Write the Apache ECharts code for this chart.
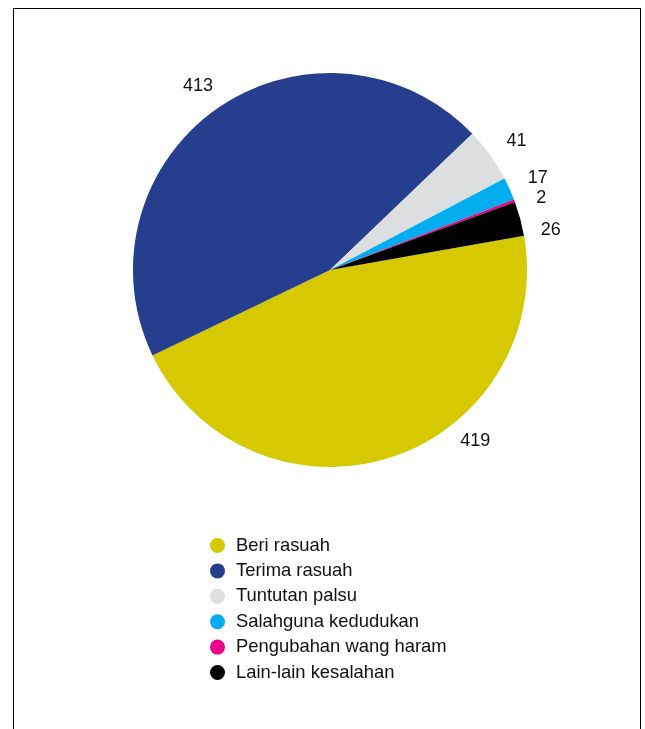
<!DOCTYPE html>
<html>
<head>
<meta charset="utf-8">
<script src="https://cdn.jsdelivr.net/npm/echarts@6/dist/echarts.min.js"></script>
<style>
html,body{margin:0;padding:0;background:#fff;width:645px;height:729px;overflow:hidden;}
#frame{position:absolute;left:13px;top:8px;width:628px;height:760px;border:1px solid #000;box-sizing:border-box;}
#chart{position:absolute;left:0;top:0;width:645px;height:729px;}
</style>
</head>
<body>
<div id="frame"></div>
<div id="chart"></div>
<script>
const categories = ['Beri rasuah','Terima rasuah','Tuntutan palsu','Salahguna kedudukan','Pengubahan wang haram','Lain-lain kesalahan'];
const values = [419, 413, 41, 17, 2, 26];
const colors = ['#D6C900','#253F8E','#DDDEE0','#00AEEF','#EC008C','#000000'];

// label nudges (style only), keyed by category index
const labelNudge = {0:[62,-35], 1:[8,-6], 2:[-1,-3], 3:[0,-3], 4:[1,-3], 5:[0,9]};

const chart = echarts.init(document.getElementById('chart'), null, {renderer:'canvas'});
chart.setOption({
  animation:false,
  backgroundColor:'transparent',
  color: colors,
  legend:{
    orient:'vertical',
    left:205, top:531.5,
    icon:'circle',
    itemWidth:15, itemHeight:15, itemGap:7.4,
    textStyle:{fontFamily:'Liberation Sans, Arial, sans-serif', fontSize:18.4, color:'#111', lineHeight:18, padding:[0,0,0,6]},
    data: categories
  },
  series:[{
    type:'pie',
    center:[330,270],
    radius:197,
    startAngle:10,
    clockwise:true,
    avoidLabelOverlap:true,
    itemStyle:{borderWidth:0},
    label:{
      show:true, position:'outside',
      fontFamily:'Liberation Sans, Arial, sans-serif', fontSize:18, color:'#111',
      formatter:'{c}', distanceToLabelLine:2
    },
    labelLine:{show:false, length:19, length2:0},
    labelLayout: function(p){
      const n = labelNudge[p.dataIndex];
      return n ? {dx:n[0], dy:n[1]} : {};
    },
    emphasis:{disabled:true},
    data: categories.map((n,i)=>({name:n, value:values[i]}))
  }]
});
</script>
</body>
</html>
